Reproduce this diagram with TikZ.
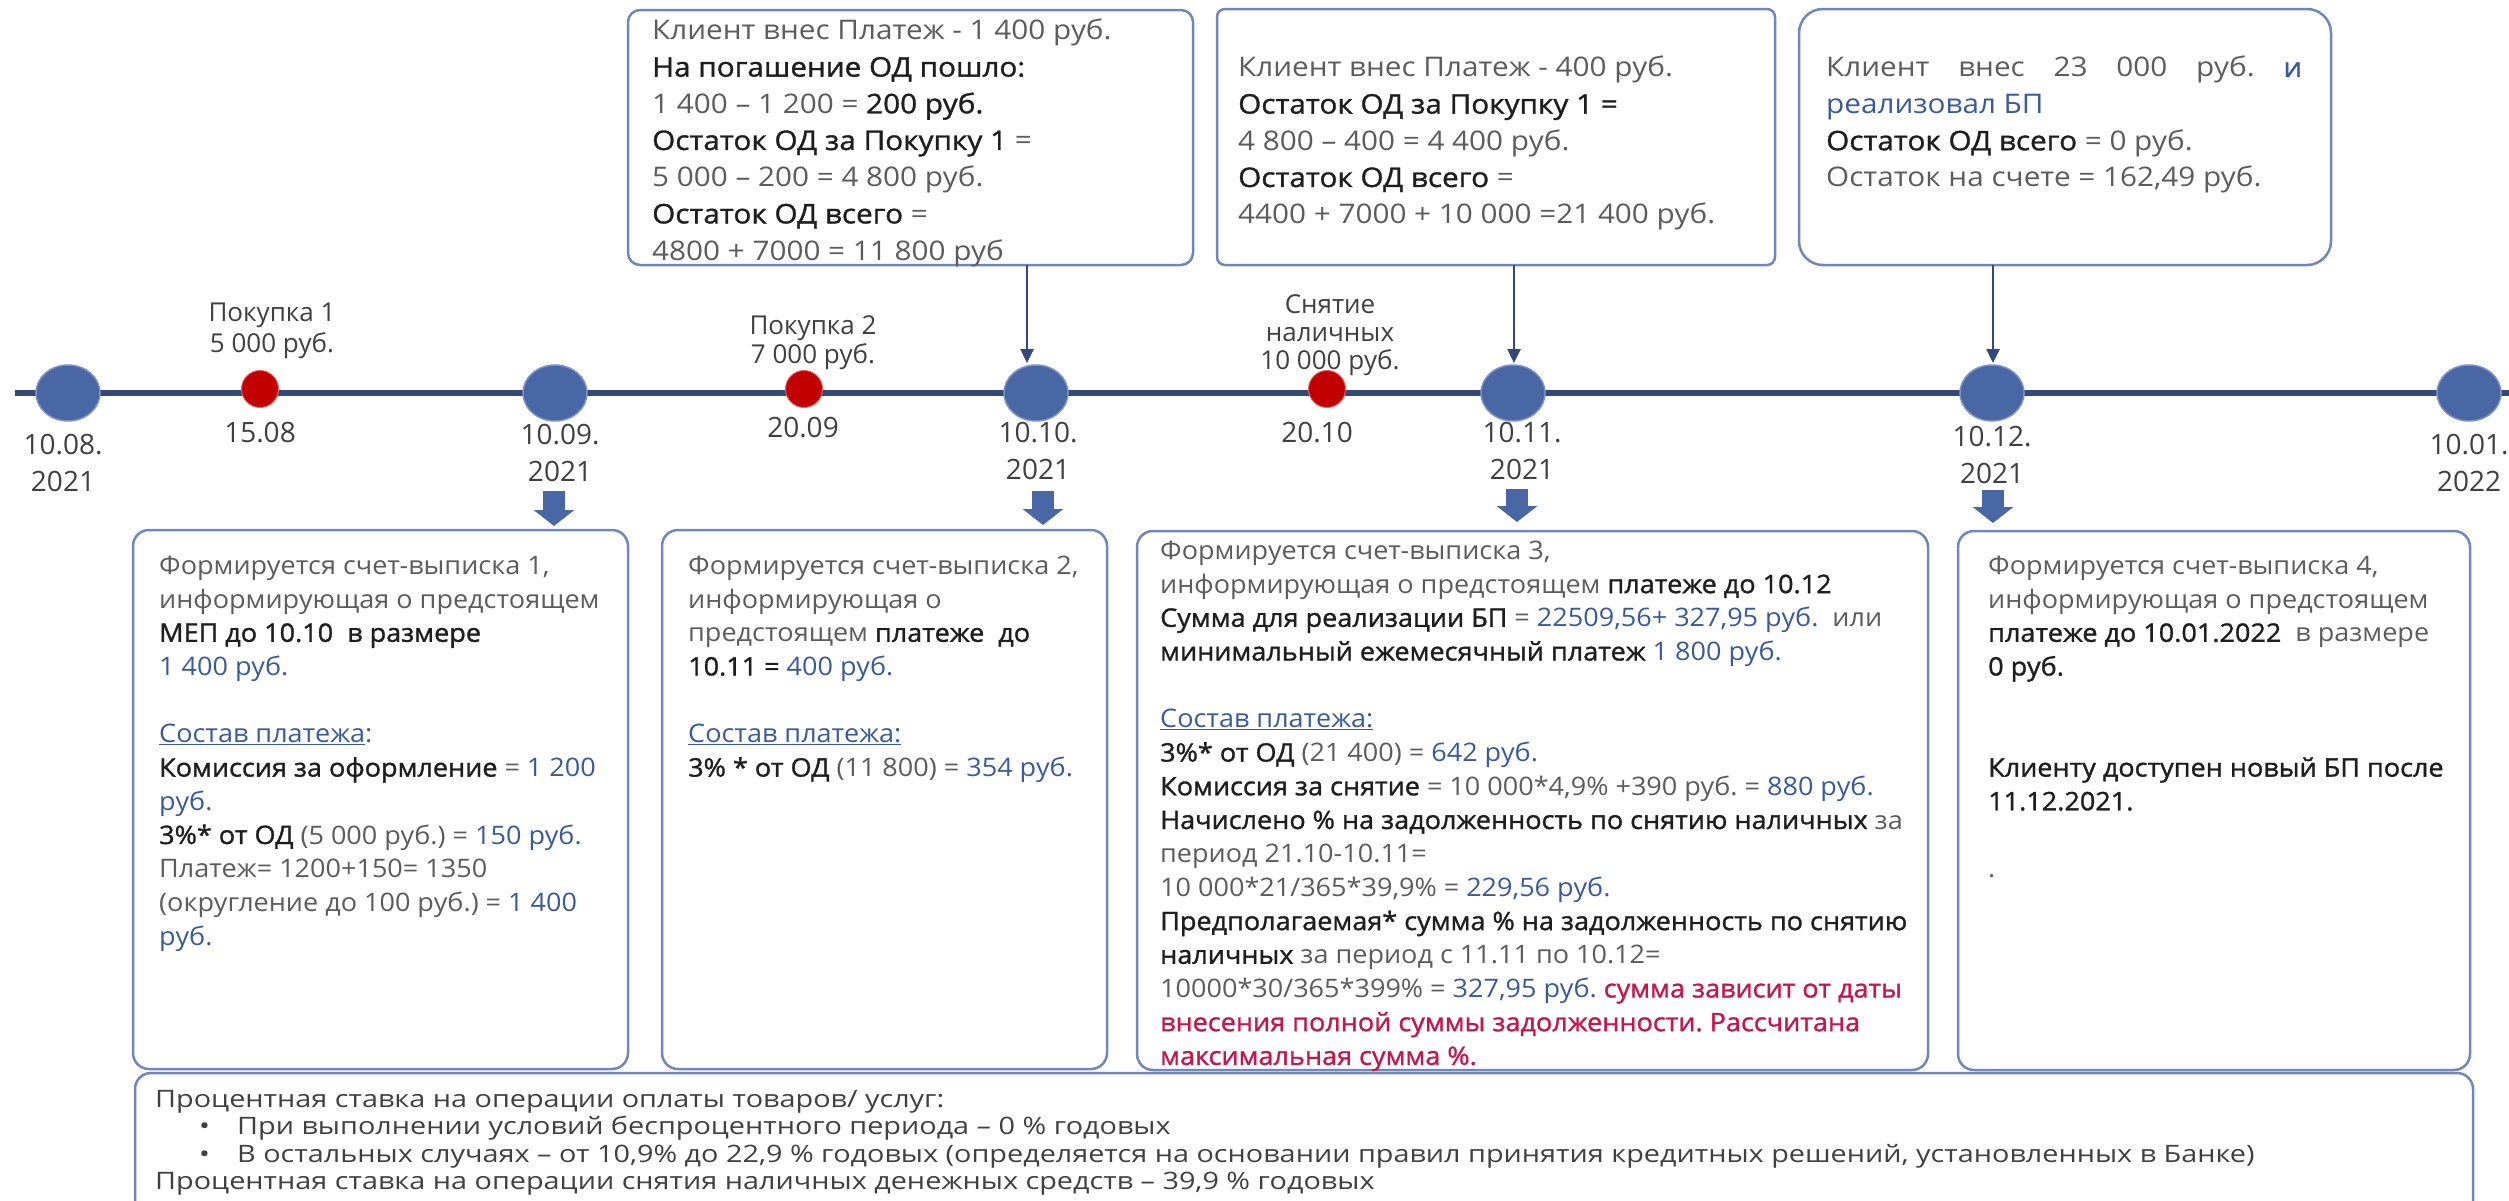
\documentclass[tikz,border=0pt]{standalone}
\usepackage{fontspec}
\setmainfont{Open Sans}
\newfontfamily\topR{Open Sans}[FakeStretch=1.10]
\newfontfamily\topS{Open Sans}[FakeStretch=1.10, RawFeature={embolden=1.2}]
\newfontfamily\botR{Open Sans}[FakeStretch=1.06]
\newfontfamily\botS{Open Sans}[FakeStretch=1.06, RawFeature={embolden=1.2}]
\newfontfamily\footR{Open Sans}[FakeStretch=1.20]
\let\sbfam\botS
\usetikzlibrary{arrows.meta,shapes.geometric}
\definecolor{lgray}{HTML}{5C5C5C}
\definecolor{dk}{HTML}{1E1E1E}
\definecolor{lbl}{HTML}{404040}
\definecolor{vblue}{HTML}{3B5A9A}
\definecolor{vred}{HTML}{C4174D}
\definecolor{tlc}{HTML}{33497A}
\definecolor{circ}{HTML}{4A67A5}
\definecolor{circrim}{HTML}{7D93C6}
\definecolor{rdot}{HTML}{C20000}
\definecolor{boxc}{HTML}{7285BD}
\newcommand\Lt[1]{{\color{lgray}#1}}
\newcommand\Sb[1]{{\sbfam\color{dk}#1}}
\newcommand\Bl[1]{{\color{vblue}#1}}
\newcommand\Rd[1]{{\sbfam\color{vred}#1}}
\frenchspacing
\begin{document}
\begin{tikzpicture}[x=1pt,y=-1pt,
  panel/.style={draw=boxc, line width=2.5pt, rounded corners=#1, fill=white, inner sep=0pt, outer sep=0pt, anchor=north west},
  bigdot/.style={ellipse, fill=circ, draw=circrim, line width=1.5pt, minimum width=64pt, minimum height=56pt, inner sep=0pt},
  reddot/.style={circle, fill=rdot, draw=rdot!60!white, line width=1pt, minimum size=37pt, inner sep=0pt},
  timeline/.style={draw=tlc, line width=6pt},
  thinarr/.style={draw=tlc, line width=2.5pt, -{Triangle[width=13pt,length=14pt]}},
  blockarr/.style={draw=circ, line width=22pt, -{Triangle[width=40pt,length=16pt]}},
  dlabel/.style={anchor=north, inner sep=0pt, align=center, font=\fontsize{28}{37}\selectfont, text=lbl},
  elabel/.style={anchor=north, inner sep=0pt, align=center, text=lbl},
  ttext/.style={anchor=north west, inner sep=0pt, align=left, font=\topR\let\sbfam\topS\fontsize{27}{36.7}\selectfont, text=dk},
  btext/.style={anchor=north west, inner sep=0pt, align=left, font=\botR\let\sbfam\botS\fontsize{25.5}{33.7}\selectfont, text=dk},
  ftext/.style={anchor=north west, inner sep=0pt, align=left, font=\footR\fontsize{24}{27.5}\selectfont, text=lbl}]
\useasboundingbox (0,0) rectangle (2509,1200);
\clip (0,0) rectangle (2509,1200);

% timeline
\coordinate (tl0) at (15,393);
\coordinate (tl1) at (2509,393);
\draw[timeline] (tl0) -- (tl1);

% main dates
\node[bigdot] (c1) at (68,393) {};
\node[bigdot] (c2) at (555,393) {};
\node[bigdot] (c3) at (1036,393) {};
\node[bigdot] (c4) at (1513,393) {};
\node[bigdot] (c5) at (1992,393) {};
\node[bigdot] (c6) at (2469,393) {};
% events
\node[reddot] (r1) at (260,389) {};
\node[reddot] (r2) at (804,389) {};
\node[reddot] (r3) at (1327,389) {};

% date labels
\node[dlabel] (d1) at (63,428) {\strut 10.08.\\2021};
\node[dlabel] (d15) at (260,416) {\strut 15.08};
\node[dlabel] (d2) at (560,418) {\strut 10.09.\\2021};
\node[dlabel] (d20) at (803,411) {\strut 20.09};
\node[dlabel] (d3) at (1038,416) {\strut 10.10.\\2021};
\node[dlabel] (d2010) at (1317,416) {\strut 20.10};
\node[dlabel] (d4) at (1522,416) {\strut 10.11.\\2021};
\node[dlabel] (d5) at (1992,420) {\strut 10.12.\\2021};
\node[dlabel] (d6) at (2469,428) {\strut 10.01.\\2022};

% event labels
\node[elabel, font=\fontsize{26}{31}\selectfont] (e1) at (272,300) {\strut Покупка 1\\5 000 руб.};
\node[elabel, font=\fontsize{26}{29}\selectfont] (e2) at (813,314) {\strut Покупка 2\\7 000 руб.};
\node[elabel, font=\fontsize{26}{28}\selectfont] (e3) at (1330,294) {\strut Снятие\\наличных\\10 000 руб.};

% top boxes
\node[panel=12, minimum width=565pt, minimum height=255pt] (bA) at (628,10) {};
\node[panel=8, minimum width=558pt, minimum height=256pt] (bB) at (1217,9) {};
\node[panel=24, minimum width=532pt, minimum height=256pt] (bC) at (1799,9) {};

\node[ttext] (tA) at (652,14) {\strut\Lt{Клиент внес Платеж - 1 400 руб.}\\
\Sb{На погашение ОД пошло:}\\
\Lt{1 400 – 1 200 =} \Sb{200 руб.}\\
\Sb{Остаток ОД за Покупку 1} \Lt{=}\\
\Lt{5 000 – 200 = 4 800 руб.}\\
\Sb{Остаток ОД всего} \Lt{=}\\
\Lt{4800 + 7000 = 11 800 руб}};

\node[ttext] (tB) at (1238,51) {\strut\Lt{Клиент внес Платеж - 400 руб.}\\
\Sb{Остаток ОД за Покупку 1 =}\\
\Lt{4 800 – 400 = 4 400 руб.}\\
\Sb{Остаток ОД всего} \Lt{=}\\
\Lt{4400 + 7000 + 10 000 =21 400 руб.}};

\node[ttext] (tC) at (1826,51) {\strut\makebox[476pt][s]{\Lt{Клиент внес 23 000 руб.} {\sbfam\color{vblue}и}}\\
\Bl{реализовал БП}\\
\Sb{Остаток ОД всего} \Lt{= 0 руб.}\\
\Lt{Остаток на счете = 162,49 руб.}};

% top arrows
\coordinate (pA) at (1027,363);
\coordinate (pB) at (1514,363);
\coordinate (pC) at (1993,363);
\draw[thinarr] (bA.south -| pA) -- (pA);
\draw[thinarr] (bB.south -| pB) -- (pB);
\draw[thinarr] (bC.south -| pC) -- (pC);

% footer box
\node[panel=16, minimum width=2338pt, minimum height=200pt] (bF) at (135,1073) {};
% bottom boxes
\node[panel=16, minimum width=495pt, minimum height=539pt] (b1) at (133,530) {};
\node[panel=16, minimum width=445pt, minimum height=539pt] (b2) at (662,530) {};
\node[panel=16, minimum width=791pt, minimum height=539pt] (b3) at (1137,531) {};
\node[panel=16, minimum width=512pt, minimum height=539pt] (b4) at (1958,531) {};

% block arrows
\coordinate (q1) at (554,491); \coordinate (q1e) at (554,526);
\coordinate (q2) at (1043,491); \coordinate (q2e) at (1043,525);
\coordinate (q3) at (1517,489); \coordinate (q3e) at (1517,522);
\coordinate (q4) at (1993,490); \coordinate (q4e) at (1993,523);
\draw[blockarr] (q1) -- (q1e);
\draw[blockarr] (q2) -- (q2e);
\draw[blockarr] (q3) -- (q3e);
\draw[blockarr] (q4) -- (q4e);

% bottom box texts
\node[btext] (t1) at (159,550.6) {\strut\Lt{Формируется счет-выписка 1,}\\
\Lt{информирующая о предстоящем}\\
\Sb{МЕП до 10.10\ \ в размере}\\
\Bl{1 400 руб.}\\
\mbox{}\\
\Bl{\underline{Состав платежа}}\Lt{:}\\
\Sb{Комиссия за оформление} \Lt{=} \Bl{1 200}\\
\Bl{руб.}\\
\Sb{3\%* от ОД} \Lt{(5 000 руб.) =} \Bl{150 руб.}\\
\Lt{Платеж= 1200+150= 1350}\\
\Lt{(округление до 100 руб.) =} \Bl{1 400}\\
\Bl{руб.}};

\node[btext] (t2) at (688,550.6) {\strut\Lt{Формируется счет-выписка 2,}\\
\Lt{информирующая о}\\
\Lt{предстоящем} \Sb{платеже\ \ до}\\
\Sb{10.11 =} \Bl{400 руб.}\\
\mbox{}\\
\Bl{\underline{Состав платежа:}}\\
\Sb{3\% * от ОД} \Lt{(11 800) =} \Bl{354 руб.}};

\node[btext] (t3) at (1160,535.6) {\strut\Lt{Формируется счет-выписка 3,}\\
\Lt{информирующая о предстоящем} \Sb{платеже до 10.12}\\
\Sb{Сумма для реализации БП} \Lt{=} \Bl{22509,56+ 327,95 руб.}\ \ \Lt{или}\\
\Sb{минимальный ежемесячный платеж} \Bl{1 800 руб.}\\
\mbox{}\\
\Bl{\underline{Состав платежа:}}\\
\Sb{3\%* от ОД} \Lt{(21 400) =} \Bl{642 руб.}\\
\Sb{Комиссия за снятие} \Lt{= 10 000*4,9\% +390 руб. =} \Bl{880 руб.}\\
\Sb{Начислено \% на задолженность по снятию наличных} \Lt{за}\\
\Lt{период 21.10-10.11=}\\
\Lt{10 000*21/365*39,9\% =} \Bl{229,56 руб.}\\
\Sb{Предполагаемая* сумма \% на задолженность по снятию}\\
\Sb{наличных} \Lt{за период с 11.11 по 10.12=}\\
\Lt{10000*30/365*399\% =} \Bl{327,95 руб.} \Rd{сумма зависит от даты}\\
\Rd{внесения полной суммы задолженности. Рассчитана}\\
\Rd{максимальная сумма \%.}};

\node[btext] (t4) at (1988,550.6) {\strut\Lt{Формируется счет-выписка 4,}\\
\Lt{информирующая о предстоящем}\\
\Sb{платеже до 10.01.2022}\ \ \Lt{в размере}\\
\Sb{0 руб.}\\
\mbox{}\\
\mbox{}\\
\Sb{Клиенту доступен новый БП после}\\
\Sb{11.12.2021.}\\
\mbox{}\\
\Lt{.}};

% footer text
\node[ftext] (tF) at (155,1088) {\strut Процентная ставка на операции оплаты товаров/ услуг:\\
\hspace*{44pt}\makebox[38pt][l]{•}При выполнении условий беспроцентного периода – 0 \% годовых\\
\hspace*{44pt}\makebox[38pt][l]{•}В остальных случаях – от 10,9\% до 22,9 \% годовых (определяется на основании правил принятия кредитных решений, установленных в Банке)\\
Процентная ставка на операции снятия наличных денежных средств – 39,9 \% годовых};
\end{tikzpicture}
\end{document}
